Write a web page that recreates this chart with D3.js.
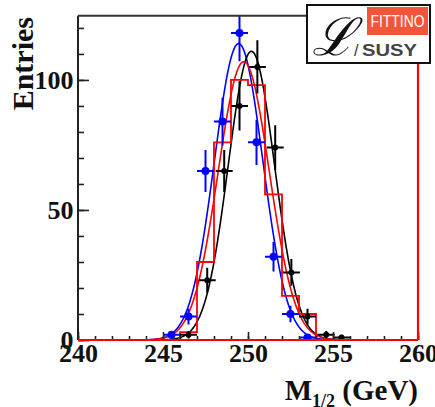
<!DOCTYPE html>
<html>
<head>
<meta charset="utf-8">
<script src="https://cdn.jsdelivr.net/npm/d3@7"></script>
<style>
  body { margin: 0; background: #fff; }
  svg { display: block; }
</style>
</head>
<body>
<div id="chart"></div>
<script>
// bin centres and contents
const blueX = [245.5, 246.5, 247.5, 248.5, 249.5, 250.5, 251.5, 252.5, 253.5];
const blueY = [2, 9, 65, 84, 118, 76, 32, 10, 1];

const blackX = [246.5, 247.6, 248.6, 249.5, 250.55, 251.6, 252.55, 253.5, 254.6, 255.5];
const blackY = [2, 23, 65, 90, 105, 74, 26, 9, 2, 1];

// red histogram: lower bin edges and contents
const redEdges = [246, 247, 248, 249, 250, 251, 252, 253, 254];
const redY = [3, 30, 76, 100, 98, 56, 17, 10];

// gaussian fits: [blue, black, red]
const fitColor = ['#0000ff', '#000000', '#ff0000'];
const fitAmp = [114, 111, 107];
const fitMean = [249.45, 250.2, 249.75];
const fitSigma = [1.42, 1.36, 1.5];

const xTicks = [240, 245, 250, 255, 260];
const yTicks = [0, 50, 100];

const W = 435, H = 407;
const margin = { t: 15.7, r: 17, b: 67, l: 78 };

const svg = d3.select('#chart')
  .append('svg')
  .attr('width', W)
  .attr('height', H);

const x = d3.scaleLinear().domain([240, 260]).range([margin.l, W - margin.r]);
const y = d3.scaleLinear().domain([0, 124.7]).range([H - margin.b, margin.t]);

svg.append('clipPath').attr('id', 'plotclip')
  .append('rect')
  .attr('x', margin.l).attr('y', margin.t)
  .attr('width', x(260) - margin.l).attr('height', y(0) - margin.t);

const plot = svg.append('g').attr('clip-path', 'url(#plotclip)');

// fit curves
const line = d3.line().x(d => x(d[0])).y(d => y(d[1]));
fitColor.forEach((c, i) => {
  const pts = d3.range(242, 258.01, 0.05).map(v =>
    [v, fitAmp[i] * Math.exp(-0.5 * Math.pow((v - fitMean[i]) / fitSigma[i], 2))]);
  plot.append('path')
    .attr('d', line(pts))
    .attr('fill', 'none')
    .attr('stroke', c)
    .attr('stroke-width', 1.6);
});

// red histogram
const stepPts = [[240, 0], [redEdges[0], 0]];
redY.forEach((v, i) => {
  stepPts.push([redEdges[i], v]);
  stepPts.push([redEdges[i + 1], v]);
});
stepPts.push([redEdges[redEdges.length - 1], 0]);
stepPts.push([260, 0]);
plot.append('path')
  .attr('d', line(stepPts))
  .attr('fill', 'none')
  .attr('stroke', '#ff0000')
  .attr('stroke-width', 1.8);

// data points with error bars
function drawPoints(xs, ys, color, r) {
  const g = plot.append('g');
  xs.forEach((xv, i) => {
    const n = ys[i];
    const e = Math.sqrt(n);
    g.append('line')
      .attr('x1', x(xv)).attr('x2', x(xv))
      .attr('y1', y(n - e)).attr('y2', y(n + e))
      .attr('stroke', color).attr('stroke-width', 2);
    g.append('line')
      .attr('x1', x(xv - 0.5)).attr('x2', x(xv + 0.5))
      .attr('y1', y(n)).attr('y2', y(n))
      .attr('stroke', color).attr('stroke-width', 2);
    g.append('circle')
      .attr('cx', x(xv)).attr('cy', y(n)).attr('r', r)
      .attr('fill', color);
  });
}
drawPoints(blackX, blackY, '#000', 3);
drawPoints(blueX, blueY, '#0000ff', 4);

// axes (ticks point inward)
const axisFont = 'Liberation Serif, Times New Roman, serif';

const yMinor = svg.append('g')
  .attr('transform', `translate(${margin.l},0)`)
  .call(d3.axisLeft(y).tickValues(d3.range(0, 121, 10)).tickSize(-6).tickFormat(''));
const yAxis = svg.append('g')
  .attr('transform', `translate(${margin.l},0)`)
  .call(d3.axisLeft(y).tickValues(yTicks).tickSize(-11).tickPadding(4.5));

const xMinor = svg.append('g')
  .attr('transform', `translate(0,${y(0)})`)
  .call(d3.axisBottom(x).tickValues(d3.range(240, 261, 1)).tickSize(-4).tickFormat(''));
const xAxis = svg.append('g')
  .attr('transform', `translate(0,${y(0)})`)
  .call(d3.axisBottom(x).tickValues(xTicks).tickSize(-8).tickPadding(4));

[yMinor, yAxis, xMinor, xAxis].forEach(a => {
  a.select('.domain').remove();
  a.selectAll('.tick line').attr('stroke', '#222').attr('stroke-width', 1.6);
});
[yAxis, xAxis].forEach(a => {
  a.selectAll('.tick text')
    .attr('font-family', axisFont)
    .attr('font-weight', 'bold')
    .attr('font-size', 26)
    .attr('fill', '#111');
});

// frame
svg.append('line')
  .attr('x1', margin.l).attr('x2', margin.l)
  .attr('y1', margin.t).attr('y2', y(0))
  .attr('stroke', '#222').attr('stroke-width', 2);
svg.append('line')
  .attr('x1', margin.l).attr('x2', x(260))
  .attr('y1', margin.t).attr('y2', margin.t)
  .attr('stroke', '#333').attr('stroke-width', 2);
svg.append('line')
  .attr('x1', margin.l).attr('x2', x(260))
  .attr('y1', y(0)).attr('y2', y(0))
  .attr('stroke', '#ff0000').attr('stroke-width', 2.2);
svg.append('line')
  .attr('x1', x(260)).attr('x2', x(260))
  .attr('y1', margin.t).attr('y2', y(0))
  .attr('stroke', '#ff0000').attr('stroke-width', 2.2);

// axis titles
svg.append('text')
  .attr('transform', 'translate(33,17) rotate(-90)')
  .attr('text-anchor', 'end')
  .attr('font-family', axisFont)
  .attr('font-weight', 'bold')
  .attr('font-size', 30)
  .attr('fill', '#111')
  .text('Entries');

const xt = svg.append('text')
  .attr('x', 418).attr('y', 400)
  .attr('text-anchor', 'end')
  .attr('font-family', axisFont)
  .attr('font-weight', 'bold')
  .attr('font-size', 29)
  .attr('fill', '#111');
xt.append('tspan').text('M');
xt.append('tspan').attr('font-size', 18).attr('dy', 7).text('1/2');
xt.append('tspan').attr('dy', -7).text(' (GeV)');

// logo
const logo = svg.append('g');
logo.append('rect')
  .attr('x', 307).attr('y', 5).attr('width', 123).attr('height', 58)
  .attr('fill', '#fff').attr('stroke', '#111').attr('stroke-width', 2);
logo.append('rect')
  .attr('x', 367).attr('y', 7).attr('width', 61).attr('height', 28)
  .attr('fill', '#f2553a');
logo.append('text')
  .attr('x', 397.5).attr('y', 27)
  .attr('text-anchor', 'middle')
  .attr('font-family', 'Liberation Sans, Arial, sans-serif')
  .attr('font-size', 16)
  .attr('textLength', 54).attr('lengthAdjust', 'spacingAndGlyphs')
  .attr('fill', '#fff')
  .text('FITTINO');
logo.append('text')
  .attr('x', 312).attr('y', 55)
  .attr('font-family', 'DejaVu Serif, serif')
  .attr('font-style', 'italic')
  .attr('font-size', 52)
  .attr('fill', '#111')
  .text('ℒ');
logo.append('text')
  .attr('x', 354).attr('y', 56)
  .attr('font-family', 'Liberation Sans, Arial, sans-serif')
  .attr('font-size', 16)
  .attr('fill', '#333')
  .text('/');
logo.append('text')
  .attr('x', 362).attr('y', 56)
  .attr('font-family', 'Liberation Sans, Arial, sans-serif')
  .attr('font-weight', 'bold')
  .attr('font-size', 17)
  .attr('textLength', 55).attr('lengthAdjust', 'spacingAndGlyphs')
  .attr('fill', '#444')
  .text('SUSY');
</script>
</body>
</html>
